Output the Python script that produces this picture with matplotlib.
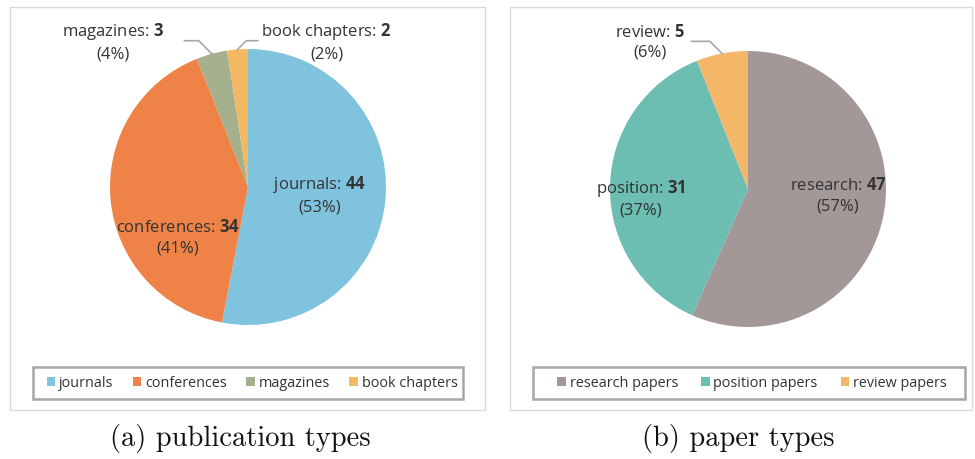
import numpy as np
import matplotlib.pyplot as plt
from matplotlib.patches import Rectangle, Patch

plt.rcParams['font.family'] = ['Open Sans', 'DejaVu Sans']
plt.rcParams['mathtext.fontset'] = 'custom'
plt.rcParams['mathtext.rm'] = 'Open Sans'
plt.rcParams['mathtext.bf'] = 'Open Sans:bold'

# (a) publication types
pub_names = ['journals', 'conferences', 'magazines', 'book chapters']
pub_counts = [44, 34, 3, 2]
pub_pct = [53, 41, 4, 2]
pub_colors = ['#80C3DE', '#EF8347', '#A5B08C', '#F5B862']
pub_legend = ['journals', 'conferences', 'magazines', 'book chapters']

# (b) paper types
pap_names = ['research', 'position', 'review']
pap_counts = [47, 31, 5]
pap_pct = [57, 37, 6]
pap_colors = ['#A39798', '#6CBDB2', '#F4B767']
pap_legend = ['research papers', 'position papers', 'review papers']

W, H = 975, 460
fig = plt.figure(figsize=(W / 100, H / 100), dpi=100)
txt_col = '#333333'


def px_axes(cx, cy, r):
    # square axes in pixel units, centred on the pie
    return fig.add_axes([(cx - r) / W, 1 - (cy + r) / H, 2 * r / W, 2 * r / H])


def draw_panel(x0, x1, cx, cy, counts, pct, names, colors, legend_names,
               inside_pos, outside_pos, caption, cap_x, leg_box, leg_mid, colspace):
    fig.add_artist(Rectangle((x0 / W, 1 - 411 / H), (x1 - x0) / W, 403 / H,
                             transform=fig.transFigure, fill=False,
                             edgecolor='#D9D9D9', linewidth=1.0))
    ax = px_axes(cx, cy, 138)
    wedges, _ = ax.pie(counts, colors=colors, startangle=90, counterclock=False,
                       radius=1.0, wedgeprops=dict(edgecolor='none'))
    ax.set_xlim(-1, 1)
    ax.set_ylim(-1, 1)
    ax.set_aspect('equal')
    ax.axis('off')
    total = sum(counts)
    cum = np.cumsum([0] + counts)
    for i, name in enumerate(names):
        label = name + r': $\mathbf{' + str(counts[i]) + '}$\n(' + str(pct[i]) + '%)'
        if i in inside_pos:
            x, y = inside_pos[i]
            ax.text(x, y, label, ha='center', va='center', fontsize=12,
                    color=txt_col, linespacing=1.35)
        else:
            x, y, ex = outside_pos[i]
            ax.text(x, y, label, ha='center', va='center', fontsize=12,
                    color=txt_col, linespacing=1.35, clip_on=False)
            mid = 90 - (cum[i] + counts[i] / 2) / total * 360
            a = np.deg2rad(mid)
            px, py = np.cos(a), np.sin(a)
            ey = y
            elbow_x = px + (ey - py) * np.sign(ex - px)
            ax.plot([px, elbow_x, ex], [py, ey, ey], color='#A6A6A6', lw=1.2,
                    clip_on=False)

    # legend frame drawn separately so it matches the original box
    lx0, lx1 = leg_box
    fig.add_artist(Rectangle((lx0 / W, 1 - 400 / H), (lx1 - lx0) / W, 32 / H,
                             transform=fig.transFigure, fill=False,
                             edgecolor='#A6A6A6', linewidth=1.8))
    handles = [Patch(facecolor=c, edgecolor='none') for c in colors]
    fig.legend(handles, legend_names, loc='center',
               bbox_to_anchor=(leg_mid / W, 1 - 384 / H),
               ncol=len(handles), frameon=False, fontsize=10.4,
               handlelength=0.6, handleheight=0.6, handletextpad=0.25,
               columnspacing=colspace, borderpad=0, borderaxespad=0,
               labelcolor=txt_col)
    fig.text(cap_x / W, 1 - 439 / H, caption, ha='center', va='center',
             fontsize=20.5, family='cmr10', color='#111111')


draw_panel(10, 485, 248, 188, pub_counts, pub_pct, pub_names, pub_colors,
           pub_legend,
           {0: (0.52, -0.05), 1: (-0.51, -0.36)},
           {2: (-0.98, 1.06, -0.46), 3: (0.57, 1.06, 0.07)},
           '(a) publication types', 240, (33, 463), 252, 1.35)

draw_panel(510, 972, 748, 190, pap_counts, pap_pct, pap_names, pap_colors,
           pap_legend,
           {0: (0.65, -0.04), 1: (-0.78, -0.06)},
           {2: (-0.71, 1.07, -0.41)},
           '(b) paper types', 738, (533, 965), 752, 1.6)

fig.savefig('out.png', dpi=100)
